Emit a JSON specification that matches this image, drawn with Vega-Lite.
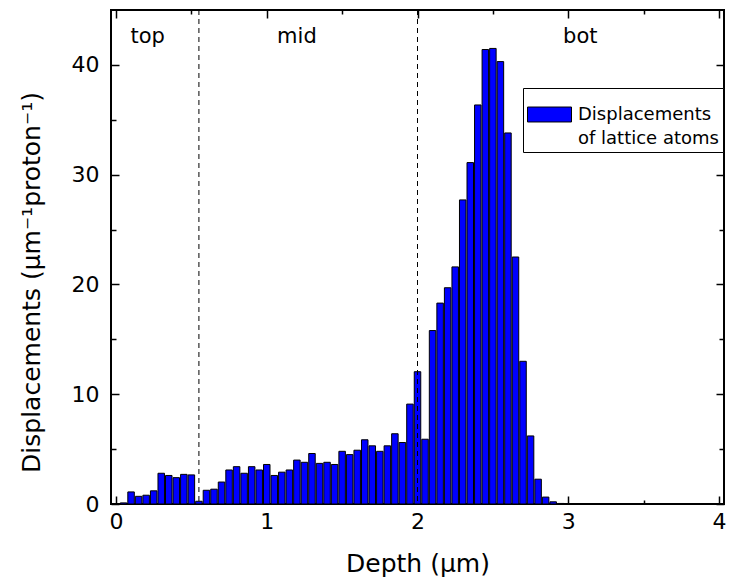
{
  "$schema": "https://vega.github.io/schema/vega-lite/v6.json",
  "width": 613,
  "height": 494,
  "autosize": {"type": "none"},
  "padding": {"left": 111, "top": 10, "right": 7, "bottom": 84},
  "config": {
    "font": "DejaVu Sans",
    "view": {"stroke": "black", "strokeWidth": 2},
    "style": {"guide-label": {"lineHeight": 24}},
    "axis": {
      "domain": false,
      "grid": false,
      "tickColor": "black",
      "tickWidth": 1.5,
      "labelColor": "black",
      "titleColor": "black",
      "labelFontSize": 22,
      "labelFontWeight": "normal",
      "titleFontSize": 25,
      "titleFontWeight": "normal",
      "labelFont": "DejaVu Sans",
      "titleFont": "DejaVu Sans",
      "labelFlush": false,
      "labelOverlap": false
    }
  },
  "resolve": {"axis": {"x": "independent", "y": "independent"}, "scale": {"x": "shared", "y": "shared"}},
  "layer": [
    {
      "data": {"values": [
        {"depth": 0.05, "value": 0.1},
        {"depth": 0.1, "value": 1.1},
        {"depth": 0.15, "value": 0.7},
        {"depth": 0.2, "value": 0.8},
        {"depth": 0.25, "value": 1.2},
        {"depth": 0.3, "value": 2.8},
        {"depth": 0.35, "value": 2.6},
        {"depth": 0.4, "value": 2.4},
        {"depth": 0.45, "value": 2.7},
        {"depth": 0.5, "value": 2.65},
        {"depth": 0.55, "value": 0.25},
        {"depth": 0.6, "value": 1.25},
        {"depth": 0.65, "value": 1.35},
        {"depth": 0.7, "value": 2.0},
        {"depth": 0.75, "value": 3.1},
        {"depth": 0.8, "value": 3.4},
        {"depth": 0.85, "value": 2.8},
        {"depth": 0.9, "value": 3.4},
        {"depth": 0.95, "value": 3.1},
        {"depth": 1.0, "value": 3.6},
        {"depth": 1.05, "value": 2.6},
        {"depth": 1.1, "value": 2.9},
        {"depth": 1.15, "value": 3.1},
        {"depth": 1.2, "value": 4.0},
        {"depth": 1.25, "value": 3.8},
        {"depth": 1.3, "value": 4.6},
        {"depth": 1.35, "value": 3.7},
        {"depth": 1.4, "value": 3.8},
        {"depth": 1.45, "value": 3.6},
        {"depth": 1.5, "value": 4.8},
        {"depth": 1.55, "value": 4.5},
        {"depth": 1.6, "value": 4.9},
        {"depth": 1.65, "value": 5.85},
        {"depth": 1.7, "value": 5.3},
        {"depth": 1.75, "value": 4.8},
        {"depth": 1.8, "value": 5.3},
        {"depth": 1.85, "value": 6.4},
        {"depth": 1.9, "value": 5.6},
        {"depth": 1.95, "value": 9.1},
        {"depth": 2.0, "value": 12.05},
        {"depth": 2.05, "value": 5.9},
        {"depth": 2.1, "value": 15.8},
        {"depth": 2.15, "value": 18.3},
        {"depth": 2.2, "value": 19.7},
        {"depth": 2.25, "value": 21.6},
        {"depth": 2.3, "value": 27.7},
        {"depth": 2.35, "value": 31.1},
        {"depth": 2.4, "value": 36.35},
        {"depth": 2.45, "value": 41.4},
        {"depth": 2.5, "value": 41.5},
        {"depth": 2.55, "value": 40.3},
        {"depth": 2.6, "value": 33.8},
        {"depth": 2.65, "value": 22.5},
        {"depth": 2.7, "value": 13.0},
        {"depth": 2.75, "value": 6.2},
        {"depth": 2.8, "value": 2.26},
        {"depth": 2.85, "value": 0.63},
        {"depth": 2.9, "value": 0.2},
        {"depth": 2.95, "value": 0.05}
      ]},
      "mark": {"type": "bar", "width": 6.5, "stroke": "black", "strokeWidth": 1},
      "encoding": {
        "x": {
          "field": "depth", "type": "quantitative",
          "scale": {"domain": [0, 4], "nice": false, "zero": false},
          "axis": {"orient": "bottom", "values": [0, 1, 2, 3, 4], "tickSize": -8, "labelPadding": 15, "labelFontSize": 22, "title": "Depth (µm)", "titlePadding": 19}
        },
        "y": {
          "field": "value", "type": "quantitative",
          "scale": {"domain": [0, 45], "nice": false},
          "axis": {"orient": "left", "values": [0, 10, 20, 30, 40], "tickSize": -8, "labelPadding": 20, "labelFontSize": 22, "title": "Displacements (µm⁻¹proton⁻¹)", "titlePadding": 27, "titleY": 272}
        },
        "color": {
          "datum": "Displacements of lattice atoms",
          "type": "nominal",
          "scale": {"range": ["#0000ff"]},
          "legend": {
            "orient": "none",
            "legendX": 412,
            "legendY": 78,
            "title": null,
            "strokeColor": "black",
            "fillColor": "white",
            "padding": 4,
            "symbolType": "M-1,-0.34H1V0.34H-1Z",
            "symbolSize": 1936,
            "symbolStrokeColor": "black",
            "symbolStrokeWidth": 1,
            "labelFont": "DejaVu Sans",
            "labelFontSize": 18,
            "labelColor": "black",
            "labelLimit": 0,
            "labelOffset": 6,
            "labelBaseline": "middle",
            "labelExpr": "['Displacements', 'of lattice atoms']"
          }
        }
      }
    },
    {
      "data": {"values": [{"depth": 0.55}, {"depth": 2.0}]},
      "mark": {"type": "rule", "color": "black", "strokeWidth": 1, "strokeDash": [5, 4]},
      "encoding": {
        "x": {
          "field": "depth", "type": "quantitative",
          "axis": {"orient": "bottom", "values": [0.5, 1.5, 2.5, 3.5], "tickSize": -4, "labels": false, "title": null}
        }
      }
    },
    {
      "data": {"values": [
        {"label": "top", "depth": 0.21, "value": 42.5},
        {"label": "mid", "depth": 1.2, "value": 42.5},
        {"label": "bot", "depth": 3.08, "value": 42.5}
      ]},
      "mark": {"type": "text", "fontSize": 21, "font": "DejaVu Sans", "color": "black", "baseline": "middle", "align": "center"},
      "encoding": {
        "x": {"field": "depth", "type": "quantitative", "axis": {"orient": "top", "values": [0, 1, 2, 3, 4], "tickSize": -8, "labels": false, "title": null}},
        "y": {"field": "value", "type": "quantitative", "axis": {"orient": "right", "values": [0, 10, 20, 30, 40], "tickSize": -8, "labels": false, "title": null}},
        "text": {"field": "label", "type": "nominal"}
      }
    },
    {
      "data": {"values": [{"depth": 0.55}, {"depth": 2.0}]},
      "mark": {"type": "rule", "opacity": 0},
      "encoding": {
        "x": {"field": "depth", "type": "quantitative", "axis": {"orient": "top", "values": [0.5, 1.5, 2.5, 3.5], "tickSize": -4, "labels": false, "title": null}},
        "y": {"datum": 0, "type": "quantitative", "axis": null}
      }
    },
    {
      "data": {"values": [{"value": 5}, {"value": 15}, {"value": 25}, {"value": 35}]},
      "mark": {"type": "rule", "opacity": 0},
      "encoding": {
        "y": {"field": "value", "type": "quantitative", "axis": {"orient": "left", "values": [5, 15, 25, 35], "tickSize": -5, "labels": false, "title": null}}
      }
    },
    {
      "data": {"values": [{"value": 5}, {"value": 15}, {"value": 25}, {"value": 35}]},
      "mark": {"type": "rule", "opacity": 0},
      "encoding": {
        "y": {"field": "value", "type": "quantitative", "axis": {"orient": "right", "values": [5, 15, 25, 35], "tickSize": -5, "labels": false, "title": null}}
      }
    }
  ]
}
